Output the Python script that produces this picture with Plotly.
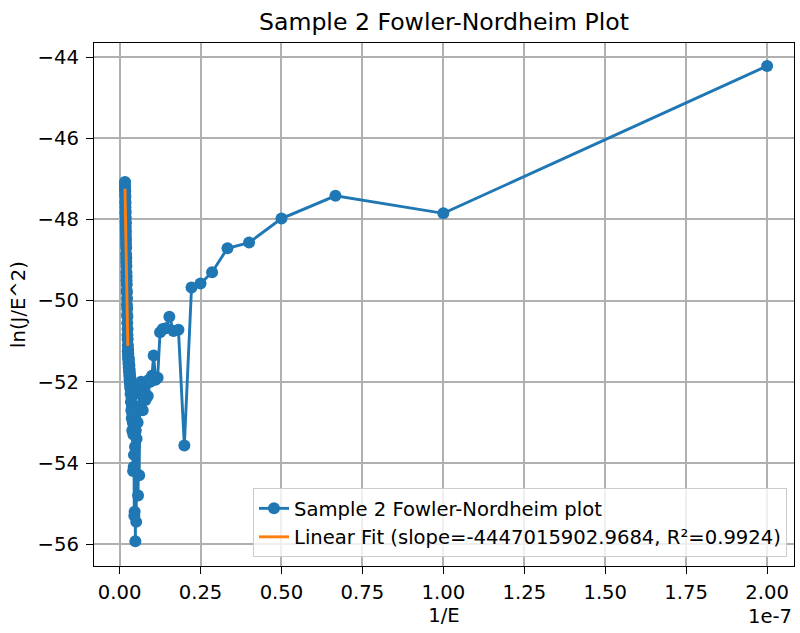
import plotly.graph_objects as go

# 1/E values in units of 1e-7
inv_e_1e7 = [
    2.0, 1.0, 0.6667, 0.5, 0.4, 0.3333, 0.2857, 0.25, 0.2222, 0.2,
    0.1818, 0.1667, 0.1538, 0.1429, 0.1333, 0.125, 0.1176, 0.1111, 0.1053, 0.1,
    0.0952, 0.0909, 0.0870, 0.0833, 0.08, 0.0769, 0.0741, 0.0714, 0.0690, 0.0667,
    0.0645, 0.0625, 0.0606, 0.0588, 0.0571, 0.0556, 0.0541, 0.0526, 0.0513, 0.05,
    0.0488, 0.0476, 0.0465, 0.0455, 0.0444, 0.0435, 0.0426, 0.0417, 0.0408, 0.04,
    0.0392, 0.0385, 0.0377, 0.0370, 0.0364, 0.0357, 0.0351, 0.0345, 0.0339, 0.0333,
    0.0328, 0.0323, 0.0317, 0.0313, 0.0308, 0.0303, 0.0299, 0.0294, 0.0290, 0.0286,
    0.0282, 0.0278, 0.0274, 0.0270, 0.0267, 0.0263, 0.0260, 0.0256, 0.0253, 0.0250,
    0.0247, 0.0244, 0.0241, 0.0238, 0.0235, 0.0233, 0.0230, 0.0227, 0.0225, 0.0222,
    0.0220, 0.0217, 0.0215, 0.0213, 0.0211, 0.0208, 0.0206, 0.0204, 0.0202, 0.0200,
    0.0198, 0.0196, 0.0194, 0.0192, 0.0190, 0.0189, 0.0187, 0.0185, 0.0183, 0.0182,
    0.0180, 0.0179, 0.0177, 0.0175, 0.0174, 0.0172, 0.0171, 0.0169, 0.0168, 0.0167,
]

ln_j_e2 = [
    -44.22, -47.85, -47.42, -47.98, -48.57, -48.71, -49.30, -49.58, -49.68, -53.57,
    -50.72, -50.75, -50.40, -50.68, -50.70, -50.78, -51.90, -51.95, -51.35, -51.85,
    -52.00, -51.95, -52.35, -52.05, -52.45, -52.20, -52.40, -52.70, -52.30, -52.00,
    -52.30, -52.10, -54.30, -52.60, -54.80, -53.00, -52.70, -53.40, -55.45, -53.20,
    -55.93, -53.60, -55.20, -55.30, -53.80, -54.10, -53.30, -54.20, -53.00, -52.80,
    -53.20, -52.60, -52.90, -52.40, -52.70, -52.20, -52.50, -52.00, -52.30, -51.90,
    -52.15, -51.80, -52.05, -51.70, -51.95, -51.60, -51.85, -51.55, -51.75, -51.45,
    -51.65, -51.40, -51.55, -51.30, -51.45, -51.20, -51.35, -51.10, -51.25, -50.95,
    -50.70, -50.85, -50.40, -50.55, -50.20, -50.35, -49.95, -50.10, -49.80, -49.60,
    -49.75, -49.40, -49.50, -49.15, -49.30, -48.95, -49.05, -48.70, -48.85, -48.50,
    -48.60, -48.30, -48.40, -48.10, -48.20, -47.95, -48.05, -47.80, -47.85, -47.60,
    -47.70, -47.45, -47.55, -47.30, -47.40, -47.20, -47.30, -47.10, -47.20, -47.08,
]

# Linear fit parameters
fit_slope = -4447015902.9684
fit_intercept = -39.82
fit_r2 = 0.9924
fit_x_range = [0.0167e-7, 0.0254e-7]

x_tick_vals = [0.0, 0.25e-7, 0.5e-7, 0.75e-7, 1.0e-7, 1.25e-7, 1.5e-7, 1.75e-7, 2.0e-7]
x_tick_text = ["0.00", "0.25", "0.50", "0.75", "1.00", "1.25", "1.50", "1.75", "2.00"]
y_tick_vals = [-56, -54, -52, -50, -48, -46, -44]

x_vals = [v * 1e-7 for v in inv_e_1e7]
fit_y = [fit_intercept + fit_slope * xv for xv in fit_x_range]

blue = "#1f77b4"
orange = "#ff7f0e"
font = "DejaVu Sans"
fs = 19.6

fig = go.Figure()
fig.add_trace(go.Scatter(
    x=x_vals, y=ln_j_e2, mode="lines+markers",
    name="Sample 2 Fowler-Nordheim plot",
    line=dict(color=blue, width=2.9),
    marker=dict(color=blue, size=12),
))
fig.add_trace(go.Scatter(
    x=fit_x_range, y=fit_y, mode="lines",
    name=f"Linear Fit (slope={fit_slope:.4f}, R²={fit_r2:.4f})",
    line=dict(color=orange, width=2.9),
))

axis_common = dict(
    showline=True, mirror=True, linecolor="black", linewidth=1.4,
    ticks="outside", ticklen=7, tickcolor="black", tickwidth=1.4,
    showgrid=True, gridcolor="#b0b0b0", gridwidth=1.5, zeroline=False,
    tickfont=dict(family=font, size=fs, color="black"),
)

fig.update_layout(
    width=800, height=633,
    margin=dict(l=94, r=6, t=43, b=67),
    paper_bgcolor="white", plot_bgcolor="white",
    font=dict(family=font, size=fs, color="black"),
    title=dict(text="Sample 2 Fowler-Nordheim Plot", x=0.555, xanchor="center",
               y=0.966, yanchor="middle", font=dict(family=font, size=23.6, color="black")),
    xaxis=dict(
        range=[-0.079e-7, 2.083e-7], tickvals=x_tick_vals, ticktext=x_tick_text,
        title=dict(text="1/E", font=dict(family=font, size=fs), standoff=0),
        ticklabelstandoff=1,
        **axis_common,
    ),
    yaxis=dict(
        range=[-56.537, -43.655], tickvals=y_tick_vals,
        title=dict(text="ln(J/E^2)", font=dict(family=font, size=fs), standoff=6),
        ticklabelstandoff=3,
        **axis_common,
    ),
    legend=dict(
        x=0.99, y=0.017, xanchor="right", yanchor="bottom",
        bgcolor="rgba(255,255,255,0.8)", bordercolor="#cccccc", borderwidth=1,
        font=dict(family=font, size=fs, color="black"),
        itemwidth=30, tracegroupgap=0,
    ),
    showlegend=True,
)

fig.add_annotation(
    text="1e-7", xref="paper", yref="paper", x=1.0, y=0, xanchor="right", yanchor="top",
    yshift=-37, showarrow=False, font=dict(family=font, size=fs, color="black"),
)

fig.write_html("out.html")
